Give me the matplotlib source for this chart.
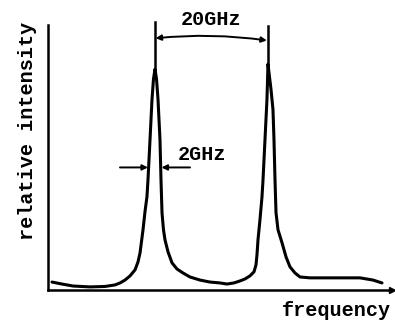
import matplotlib
matplotlib.use("Agg")
import matplotlib.pyplot as plt

# trace: frequency (GHz, first peak at 0) and relative intensity
freq = [-18.23, -16.46, -14.51, -11.50, -8.85, -7.08, -6.19, -5.31, -4.42, -3.54,
        -3.01, -2.65, -2.12, -1.77, -1.42, -1.24, -0.88, -0.53, -0.27, 0.0,
        0.27, 0.53, 0.88, 1.06, 1.24, 1.50, 1.77, 2.30, 3.01, 3.89,
        4.96, 6.19, 7.96, 9.73, 11.50, 12.74, 13.98, 15.04, 15.93, 16.81,
        17.52, 17.88, 18.05, 18.23, 18.58, 18.94, 19.12, 19.47, 19.82, 20.00,
        20.27, 20.53, 20.88, 21.06, 21.24, 21.42, 21.77, 22.48, 23.19, 23.89,
        24.78, 25.66, 27.43, 30.09, 32.74, 36.28, 38.58, 40.18]
intensity = [0.036, 0.027, 0.018, 0.014, 0.016, 0.023, 0.032, 0.045, 0.064, 0.091,
             0.127, 0.168, 0.273, 0.355, 0.423, 0.500, 0.682, 0.864, 0.955, 1.000,
             0.955, 0.864, 0.682, 0.500, 0.350, 0.273, 0.227, 0.173, 0.123, 0.095,
             0.077, 0.059, 0.045, 0.036, 0.032, 0.027, 0.032, 0.041, 0.050, 0.064,
             0.082, 0.114, 0.159, 0.227, 0.318, 0.423, 0.500, 0.682, 0.864, 1.023,
             0.964, 0.909, 0.818, 0.682, 0.500, 0.350, 0.273, 0.214, 0.150, 0.105,
             0.077, 0.059, 0.055, 0.055, 0.055, 0.055, 0.045, 0.032]

peaks = [0.0, 20.0]
peak_heights = [1.0, 1.023]
marker_tops = [1.214, 1.195]
spacing_label = "20GHz"
width_label = "2GHz"

font = dict(family="Liberation Mono", fontweight="bold", fontsize=14.5, color="black")

fig = plt.figure(figsize=(3.95, 3.22), dpi=100)
ax = fig.add_axes([48/395, 32/322, 344/395, 265/322])
ax.set_xlim(-18.94, 41.95)
ax.set_ylim(0, 1.2)

ax.plot(freq, intensity, color="black", lw=2.2, solid_capstyle="round", solid_joinstyle="round")

# vertical markers above the peaks
for p, h, t in zip(peaks, peak_heights, marker_tops):
    ax.plot([p, p], [h, t], color="black", lw=1.8, clip_on=False)

# 20 GHz spacing arrow (bows slightly upward)
ax.annotate("", xy=(peaks[1] - 0.2, 1.13), xytext=(peaks[0] + 0.1, 1.14),
            arrowprops=dict(arrowstyle="<|-|>", color="black", lw=1.4,
                            mutation_scale=8, shrinkA=0, shrinkB=0,
                            connectionstyle="arc3,rad=-0.06"),
            annotation_clip=False)
ax.text(9.9, 1.225, spacing_label, ha="center", va="center", clip_on=False, **font)

# 2 GHz width arrows
ax.annotate("", xy=(-1.25, 0.555), xytext=(-6.2, 0.555),
            arrowprops=dict(arrowstyle="-|>", color="black", lw=1.4,
                            mutation_scale=8, shrinkA=0, shrinkB=0))
ax.annotate("", xy=(1.15, 0.555), xytext=(6.2, 0.555),
            arrowprops=dict(arrowstyle="-|>", color="black", lw=1.4,
                            mutation_scale=8, shrinkA=0, shrinkB=0))
ax.text(8.3, 0.614, width_label, ha="center", va="center", **font)

# axes: only left and bottom, bottom with an arrow head
for s in ["top", "right"]:
    ax.spines[s].set_visible(False)
ax.spines["left"].set_linewidth(1.8)
ax.spines["bottom"].set_linewidth(1.8)
ax.set_xticks([])
ax.set_yticks([])
ax.plot([1.0], [0.0], marker=">", color="black", markersize=5,
        transform=ax.transAxes, clip_on=False)

fig.text(336/395, 1 - 311/322, "frequency", ha="center", va="center", **font)
fig.text(28/395, 1 - 131/322, "relative intensity", rotation=90,
         ha="center", va="center", **font)

fig.savefig("out.png", dpi=100, facecolor="white")
